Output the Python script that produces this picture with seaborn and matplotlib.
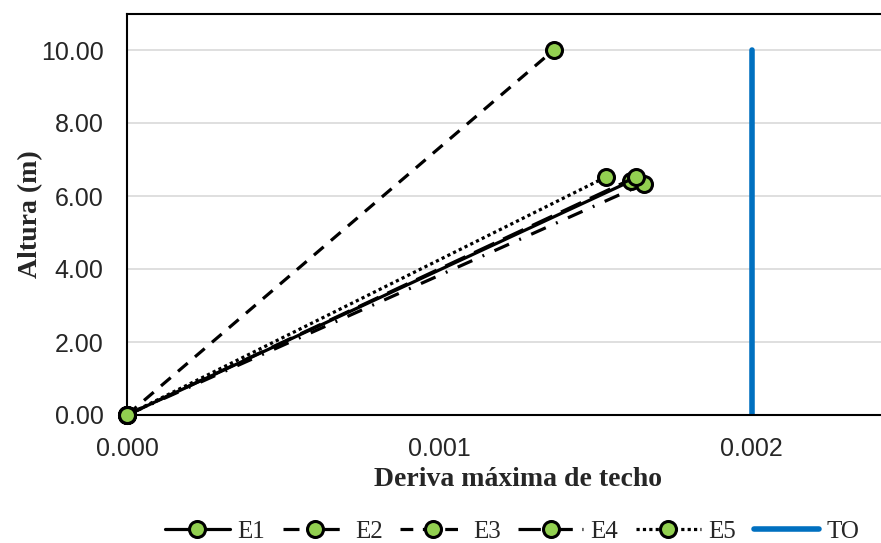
import numpy as np
import pandas as pd
import matplotlib
matplotlib.use("Agg")
import matplotlib.pyplot as plt
import seaborn as sns

sns.set_style("white")

# data: each series goes from the base (0, 0) to the roof
series = ["E1", "E2", "E3", "E4", "E5"]
deriva_techo = [0.001613, 0.001654, 0.001366, 0.001629, 0.001533]
altura_techo = [6.41, 6.33, 10.00, 6.52, 6.52]
to_x = [0.002, 0.002]
to_y = [0.0, 10.0]

estilos = {
    "E1": "-",
    "E2": (0, (5, 3.5, 0.6, 3.5)),
    "E3": (0, (4, 3)),
    "E4": (0, (7, 3)),
    "E5": (0, (1, 1)),
}

fig = plt.figure(figsize=(8.81, 5.43), dpi=100)
ax = fig.add_axes([127 / 881, 1 - 415 / 543, 781 / 881, (415 - 13.5) / 543])

for s, dx, h in zip(series, deriva_techo, altura_techo):
    df = pd.DataFrame({"x": [0.0, dx], "y": [0.0, h]})
    sns.lineplot(data=df, x="x", y="y", ax=ax, estimator=None, sort=False,
                 color="black", linewidth=2.3, linestyle=estilos[s],
                 marker="o", markersize=11.5, markerfacecolor="#92D050",
                 markeredgecolor="black", markeredgewidth=2.2, label=s,
                 zorder=3, clip_on=False)

sns.lineplot(x=to_x, y=to_y, ax=ax, estimator=None, sort=False,
             color="#0070C0", linewidth=4, label="TO", zorder=2)

ax.set_xlim(0, 0.0025)
ax.set_ylim(0, 11)
ax.set_xticks([0, 0.001, 0.002])
ax.set_xticklabels(["0.000", "0.001", "0.002"])
ax.set_yticks(np.arange(0, 11, 2))
ax.set_yticklabels([f"{v:.2f}" for v in np.arange(0, 11, 2)])
ax.yaxis.grid(True, color="#D9D9D9", linewidth=1.2)
ax.set_axisbelow(True)
ax.tick_params(axis="y", length=0, labelsize=18, pad=17)
ax.tick_params(axis="x", length=0, labelsize=18, pad=16)
for lab in ax.get_xticklabels() + ax.get_yticklabels():
    lab.set_family("Liberation Sans")

for sp in ["left", "bottom", "top"]:
    ax.spines[sp].set_color("black")
    ax.spines[sp].set_linewidth(1.5)
ax.spines["right"].set_visible(False)

ax.set_xlabel("Deriva máxima de techo", family="Liberation Serif",
              fontweight="bold", fontsize=20, labelpad=4)
ax.set_ylabel("Altura (m)", family="Liberation Serif",
              fontweight="bold", fontsize=20, labelpad=-2)

ax.legend(loc="lower center", bbox_to_anchor=(385 / 781, -0.375), ncol=6,
          frameon=False, prop={"family": "Liberation Serif", "size": 18},
          handlelength=2.6, handletextpad=0.3, columnspacing=0.7)

fig.savefig("out.png", dpi=100)
